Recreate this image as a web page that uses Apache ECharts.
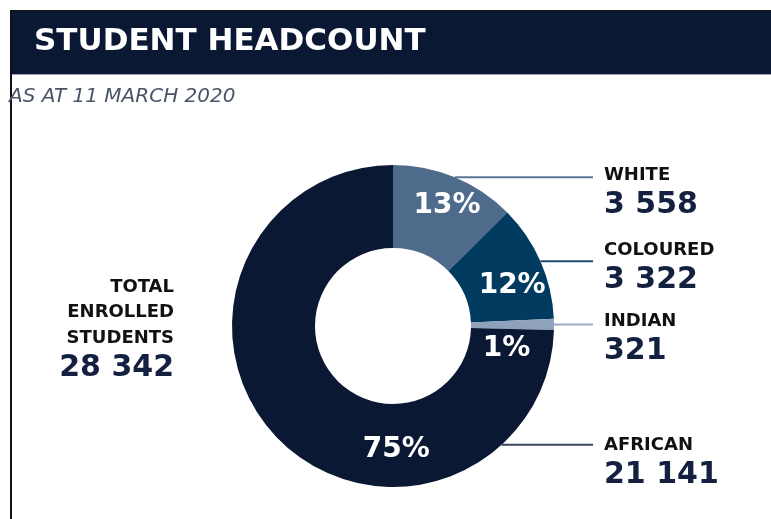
<!DOCTYPE html>
<html>
<head>
<meta charset="utf-8">
<script src="https://cdn.jsdelivr.net/npm/echarts@6/dist/echarts.min.js"></script>
<style>html,body{margin:0;padding:0;background:#fff;}#c{width:771px;height:519px;}</style>
</head>
<body>
<div id="c"></div>
<script>
// ---- data ----
var categories = ['WHITE', 'COLOURED', 'INDIAN', 'AFRICAN'];
var headcount = [3558, 3322, 321, 21141];
var titleText = 'STUDENT HEADCOUNT';
var subtitleText = 'AS AT 11 MARCH 2020';
var totalLabel = ['TOTAL', 'ENROLLED', 'STUDENTS'];

// ---- style / layout ----
var sliceColors = ['#4e6b8c', '#023b60', '#8ea2bb', '#0b1834'];
var lineColors = ['#5a7597', '#1f4d70', '#9aaec6', '#3b4660'];
var navy = '#0b1834';
var FONT = '"DejaVu Sans", sans-serif';
var CX = 393, CY = 326, R0 = 78, R1 = 161;
var pctOffsets = [[7, -7], [7, 9], [-9, 24], [91, 38]];
var lineEndX = 593, labelX = 604;
var nameTopOffset = [-10, -19, -11, -7];
var anchorOverrideDeg = [null, null, null, 137.5]; // degrees clockwise from 12 o'clock

function fmt(n) { return String(n).replace(/\B(?=(\d{3})+(?!\d))/g, ' '); }
var total = headcount.reduce(function (a, b) { return a + b; }, 0);

var pieData = categories.map(function (c, i) {
  return {
    name: c, value: headcount[i],
    itemStyle: { color: sliceColors[i] },
    label: { offset: pctOffsets[i] }
  };
});
var labelData = categories.map(function (c, i) {
  return { name: c, value: headcount[i], labelLine: { lineStyle: { color: lineColors[i] } } };
});

var chart = echarts.init(document.getElementById('c'), null, { renderer: 'canvas' });
chart.setOption({
  animation: false,
  graphic: [
    { type: 'rect', shape: { x: 10, y: 10, width: 761, height: 64 }, style: { fill: navy }, z: 0 },
    { type: 'line', shape: { x1: 10, y1: 10.5, x2: 771, y2: 10.5 }, style: { stroke: '#111', lineWidth: 1 }, z: 1 },
    { type: 'line', shape: { x1: 10, y1: 74.5, x2: 771, y2: 74.5 }, style: { stroke: '#9aa3b5', lineWidth: 1 }, z: 1 },
    { type: 'line', shape: { x1: 11, y1: 10, x2: 11, y2: 519 }, style: { stroke: '#111', lineWidth: 2 }, z: 2 },
    { type: 'text', x: 34, y: 42, style: { text: titleText, fill: '#fff', font: 'bold 31px ' + FONT, verticalAlign: 'middle', align: 'left' }, z: 3 },
    { type: 'text', x: 9, y: 97, style: { text: subtitleText, fill: '#4a5468', font: 'italic 20px ' + FONT, verticalAlign: 'middle', align: 'left' }, z: 3 },
    { type: 'text', x: 174, y: 287, style: { text: totalLabel[0], fill: '#111', font: 'bold 18px ' + FONT, verticalAlign: 'middle', align: 'right' }, z: 3 },
    { type: 'text', x: 174, y: 312, style: { text: totalLabel[1], fill: '#111', font: 'bold 18px ' + FONT, verticalAlign: 'middle', align: 'right' }, z: 3 },
    { type: 'text', x: 174, y: 338, style: { text: totalLabel[2], fill: '#111', font: 'bold 18px ' + FONT, verticalAlign: 'middle', align: 'right' }, z: 3 },
    { type: 'text', x: 174, y: 368, style: { text: fmt(total), fill: '#13203f', font: 'bold 30px ' + FONT, verticalAlign: 'middle', align: 'right' }, z: 3 }
  ],
  series: [
    {
      type: 'pie',
      center: [CX, CY], radius: [R0, R1],
      startAngle: 90, clockwise: true,
      avoidLabelOverlap: false,
      silent: true,
      label: {
        show: true, position: 'inside',
        color: '#fff', fontFamily: FONT, fontWeight: 'bold', fontSize: 28,
        formatter: function (p) { return Math.round(p.percent) + '%'; }
      },
      labelLine: { show: false },
      data: pieData,
      z: 2
    },
    {
      type: 'pie',
      center: [CX, CY], radius: [R0, R1],
      startAngle: 90, clockwise: true,
      avoidLabelOverlap: false,
      silent: true,
      itemStyle: { color: 'rgba(0,0,0,0)' },
      label: {
        show: true, position: 'outside',
        formatter: function (p) { return '{n|' + p.name + '}\n{v|' + fmt(p.value) + '}'; },
        rich: {
          n: { fontFamily: FONT, fontWeight: 'bold', fontSize: 18, color: '#111', lineHeight: 22 },
          v: { fontFamily: FONT, fontWeight: 'bold', fontSize: 30, color: '#13203f', lineHeight: 37 }
        }
      },
      labelLine: { show: true, length: 0, length2: 0, lineStyle: { width: 2 } },
      labelLayout: function (p) {
        var i = p.dataIndex;
        var start;
        if (anchorOverrideDeg[i] != null) {
          var a = anchorOverrideDeg[i] * Math.PI / 180;
          start = [CX + R1 * Math.sin(a), CY - R1 * Math.cos(a)];
        } else {
          start = p.labelLinePoints[0];
        }
        var y = start[1];
        return {
          x: labelX, y: y + nameTopOffset[i] - 3,
          align: 'left', verticalAlign: 'top',
          labelLinePoints: [[start[0], y], [lineEndX, y], [lineEndX, y]]
        };
      },
      data: labelData,
      z: 3
    }
  ]
});
</script>
</body>
</html>
